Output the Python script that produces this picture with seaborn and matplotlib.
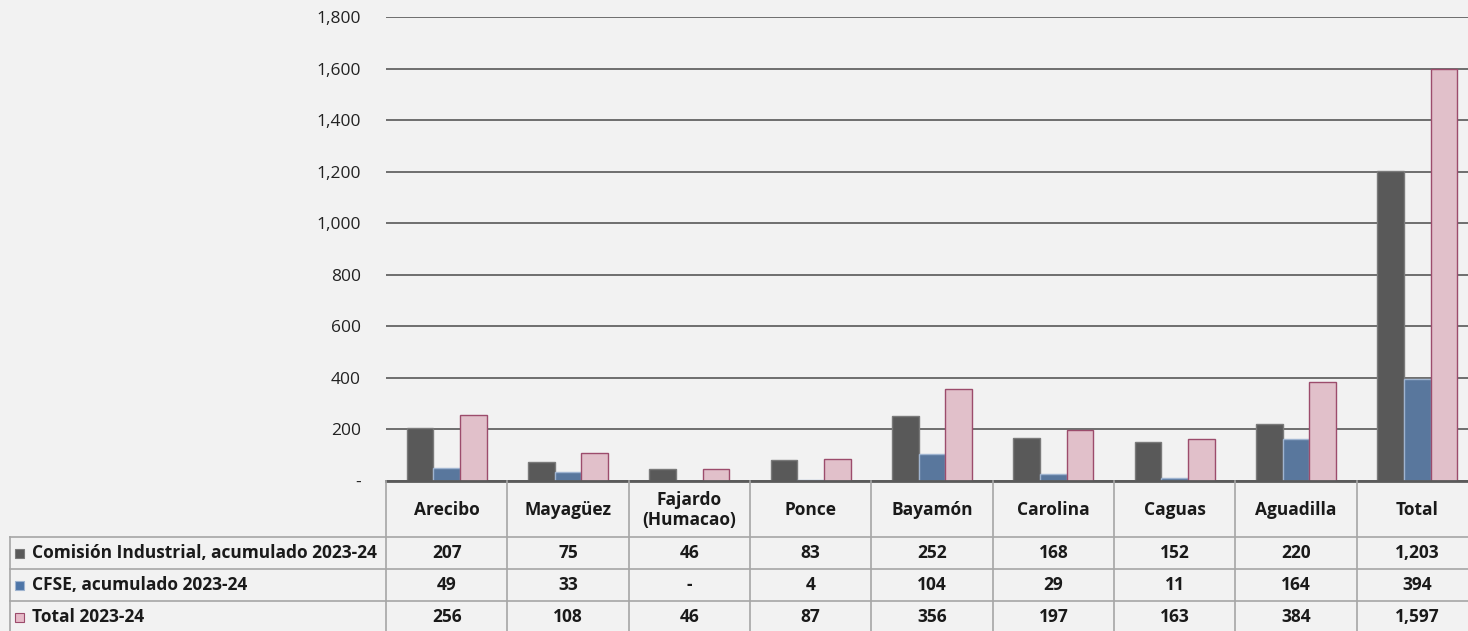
import numpy as np
import pandas as pd
import seaborn as sns
import matplotlib.pyplot as plt
from matplotlib import transforms
from matplotlib.lines import Line2D
from matplotlib.patches import Rectangle

regions = ["Arecibo", "Mayagüez", "Fajardo\n(Humacao)", "Ponce", "Bayamón",
           "Carolina", "Caguas", "Aguadilla", "Total"]
series = ["Comisión Industrial, acumulado 2023-24", "CFSE, acumulado 2023-24", "Total 2023-24"]
comision = [207, 75, 46, 83, 252, 168, 152, 220, 1203]
cfse = [49, 33, 0, 4, 104, 29, 11, 164, 394]
total = [256, 108, 46, 87, 356, 197, 163, 384, 1597]
cfse_labels = ["49", "33", "-", "4", "104", "29", "11", "164", "394"]
yticks = [0, 200, 400, 600, 800, 1000, 1200, 1400, 1600, 1800]

colors = ["#595959", "#4e76a8", "#e6bac8"]
edges = ["#7a7a7a", "#9fb4d0", "#9c4c6c"]
bg = "#f2f2f2"

df = pd.DataFrame({
    "region": regions * 3,
    "serie": np.repeat(series, len(regions)),
    "valor": comision + cfse + total,
})

W, H = 1468, 631
fig = plt.figure(figsize=(W / 100, H / 100), dpi=100, facecolor=bg)
ax = fig.add_axes([386 / W, 1 - 481 / H, 1092 / W, 464 / H], facecolor=bg)

sns.barplot(data=df, x="region", y="valor", hue="serie", palette=colors,
            width=0.66, gap=0, ax=ax, legend=False, zorder=3)
for cont, ec in zip(ax.containers, edges):
    for p in cont:
        p.set_edgecolor(ec)
        p.set_linewidth(1.0)

plt.rcParams["font.family"] = ["Open Sans", "DejaVu Sans"]

ax.set_xlim(-0.5, len(regions) - 0.5)
ax.set_ylim(0, 1800)
ax.set_yticks(yticks)
ax.set_yticklabels(["-"] + [f"{v:,}" for v in yticks[1:]],
                   fontsize=12.5, color="#222222", family=["Open Sans", "DejaVu Sans"])
ax.tick_params(axis="y", length=0, pad=18)
ax.set_xticks([])
ax.set_xlabel("")
ax.set_ylabel("")
ax.grid(axis="y", color="#6e6e6e", linewidth=1.4, zorder=0)
for s in ["top", "right", "left"]:
    ax.spines[s].set_visible(False)
ax.spines["bottom"].set_color("#5a5a5a")
ax.spines["bottom"].set_linewidth(2)
ax.spines["bottom"].set_zorder(4)

# data table under the chart
tr = transforms.blended_transform_factory(ax.transData, fig.transFigure)
def fy(y):
    return 1 - y / H

line_kw = dict(color="#a6a6a6", linewidth=1.2)
for i in range(len(regions) + 1):
    fig.add_artist(Line2D([i - 0.5, i - 0.5], [fy(481), 0], transform=tr, **line_kw))
for yy in [537, 569, 601]:
    fig.add_artist(Line2D([10 / W, 1], [fy(yy), fy(yy)], transform=fig.transFigure, **line_kw))
fig.add_artist(Line2D([10 / W, 10 / W], [fy(537), 0], transform=fig.transFigure, **line_kw))

font = dict(family=["Open Sans", "DejaVu Sans"], fontsize=12.5, fontweight="bold",
            color="#1a1a1a", ha="center", va="center")
for i, r in enumerate(regions):
    fig.text(i, fy(510), r, transform=tr, linespacing=1.15, **font)
rows = [[str(v) if v < 1000 else f"{v:,}" for v in comision],
        cfse_labels,
        [str(v) if v < 1000 else f"{v:,}" for v in total]]
row_y = [553, 585, 617]
for vals, yy in zip(rows, row_y):
    for i, v in enumerate(vals):
        fig.text(i, fy(yy), v, transform=tr, **font)

for k, (name, yy) in enumerate(zip(series, row_y)):
    fig.add_artist(Rectangle((15 / W, fy(yy + 5)), 9 / W, 9 / H, transform=fig.transFigure,
                             facecolor=colors[k], edgecolor=edges[k], linewidth=0.8))
    fig.text(32 / W, fy(yy), name, transform=fig.transFigure,
             **{**font, "ha": "left"})

fig.savefig("out.png", dpi=100, facecolor=bg)
